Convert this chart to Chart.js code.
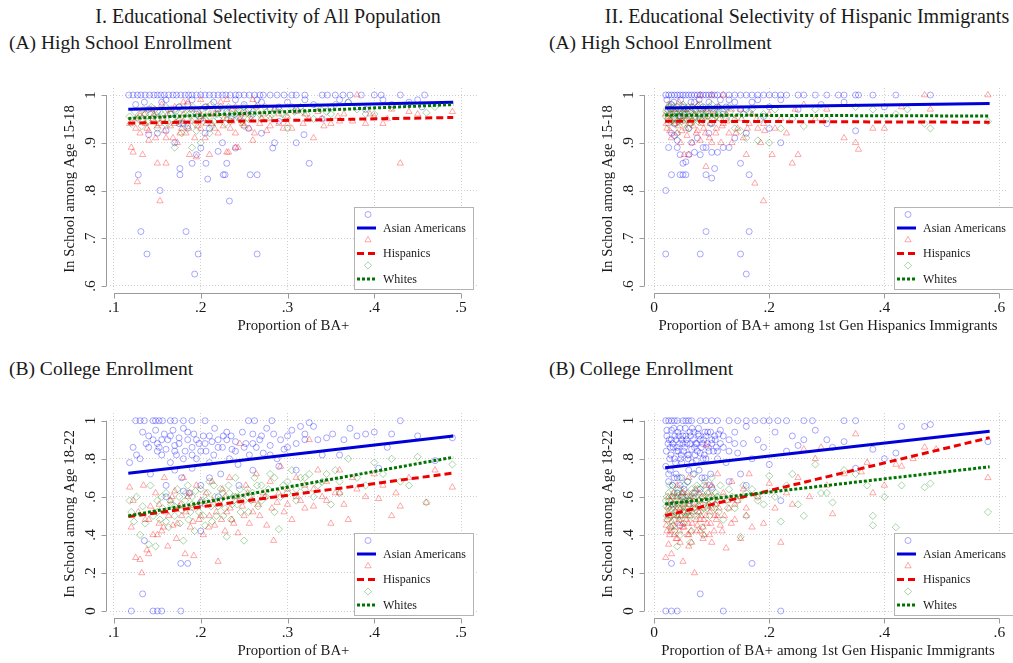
<!DOCTYPE html>
<html>
<head>
<meta charset="utf-8">
<script src="https://cdn.jsdelivr.net/npm/chart.js@4.4.1/dist/chart.umd.min.js"></script>
<style>
  body { margin:0; background:#fff; width:1013px; height:663px; overflow:hidden; position:relative; font-family:"Liberation Serif", serif; color:#1a1a1a; }
  canvas { position:absolute; left:0; top:0; }
  .t { position:absolute; white-space:nowrap; line-height:1; }
  .big { font-size:20px; }
  .sub { font-size:19.5px; }
</style>
</head>
<body>
<div class="t big" style="left:268px;top:6px;transform:translateX(-50%)">I. Educational Selectivity of All Population</div>
<div class="t big" style="left:807px;top:6px;transform:translateX(-50%)">II. Educational Selectivity of Hispanic Immigrants</div>
<div class="t sub" style="left:9px;top:33px">(A) High School Enrollment</div>
<div class="t sub" style="left:549px;top:33px">(A) High School Enrollment</div>
<div class="t sub" style="left:9px;top:359px">(B) College Enrollment</div>
<div class="t sub" style="left:549px;top:359px">(B) College Enrollment</div>
<canvas id="c1" width="1013" height="663"></canvas>
<canvas id="c2" width="1013" height="663"></canvas>
<canvas id="c3" width="1013" height="663"></canvas>
<canvas id="c4" width="1013" height="663"></canvas>
<script>
/* ---------- data ---------- */
const seriesNames = ['Asian Americans', 'Hispanics', 'Whites'];
const xTicksAll  = [0.1, 0.2, 0.3, 0.4, 0.5];
const xTicksHisp = [0, 0.2, 0.4, 0.6];
const yTicksHS   = [0.6, 0.7, 0.8, 0.9, 1];
const yTicksCol  = [0, 0.2, 0.4, 0.6, 0.8, 1];

// (I-A) high school, all population
const hsAllAsian = [[.117,1],[.122,1],[.127,1],[.131,1],[.136,1],[.141,1],[.146,1],[.15,1],[.154,1],[.158,1],[.163,1],[.168,1],[.172,1],[.177,1],[.182,1],[.186,1],[.19,1],[.195,1],[.2,1],[.205,1],[.21,1],[.215,1],[.22,1],[.225,1],[.229,1],[.234,1],[.24,1],[.244,1],[.25,1],[.256,1],[.262,1],[.268,1],[.272,1],[.28,1],[.288,1],[.296,1],[.305,1],[.31,1],[.32,1],[.34,1],[.346,1],[.355,1],[.364,1],[.372,1],[.385,1],[.4,1],[.408,1],[.43,1],[.458,1],
  [.14,.97],[.155,.985],[.165,.96],[.175,.975],[.19,.99],[.2,.95],[.215,.985],[.23,.965],[.25,.98],[.265,.99],[.28,.97],[.3,.985],[.32,.99],[.35,.975],[.37,.985],[.39,.97],[.41,.99],[.44,.985],[.455,.975],[.18,.94],[.21,.93],[.245,.955],[.29,.945],
  [.125,.98],[.135,.985],[.16,.99],[.17,.97],[.185,.98],[.205,.975],[.22,.97],[.24,.99],[.255,.97],[.27,.985],[.29,.975],[.31,.97],[.33,.98],[.36,.99],[.38,.975],[.42,.98],[.45,.99],[.15,.965],[.195,.96],[.26,.96],
  [.14,.917],[.15,.92],[.16,.925],[.17,.9],[.175,.94],[.185,.935],[.195,.875],[.2,.889],[.205,.92],[.22,.882],[.225,.9],[.24,.889],[.235,.95],[.255,.93],[.27,.92],[.283,.889],[.285,.9],[.31,.9],[.319,.917],[.34,.95],
  [.128,.833],[.131,.714],[.138,.667],[.153,.8],[.176,.846],[.176,.833],[.183,.714],[.19,.857],[.193,.625],[.197,.667],[.206,.857],[.208,.824],[.226,.833],[.228,.833],[.23,.857],[.233,.778],[.257,.833],[.265,.833],[.265,.667],[.325,.857]];
const hsAllHisp = [[.118,.94],[.12,.89],[.122,.88],[.125,.95],[.127,.818],[.13,.92],[.133,.875],[.135,.96],[.138,.93],[.14,.905],[.143,.97],[.145,.95],[.148,.91],[.15,.857],[.152,.94],[.153,.778],[.155,.98],[.158,.925],[.16,.857],[.162,.96],[.165,.935],[.168,.91],[.17,.975],[.173,.9],[.175,.95],[.178,.93],[.18,.96],[.183,.92],[.185,.985],[.187,.875],[.19,.945],[.193,.91],[.195,.87],[.198,.965],[.2,.93],[.203,.95],[.205,.91],[.208,.975],[.21,.875],[.213,.94],[.216,.96],[.22,.92],[.223,.985],[.226,.95],[.23,.88],[.232,.88],[.234,.93],[.236,.97],[.24,.89],[.243,.89],[.245,.95],[.248,.94],[.252,.96],[.256,.93],[.26,.905],[.264,.975],[.268,.94],[.272,.96],[.276,.925],[.28,.95],[.285,.97],[.29,.94],[.295,.93],[.3,.955],[.305,.93],[.31,.965],[.318,.94],[.325,.95],[.33,.91],[.335,.965],[.342,.935],[.35,.94],[.358,.955],[.365,.96],[.375,.945],[.38,1],[.39,.94],[.395,.96],[.4,.955],[.41,.94],[.415,.95],[.42,.97],[.43,.857],[.44,.965],[.45,.96],[.49,.965],[.23,.99],[.24,.975],[.2,.99],
  [.125,.93],[.13,.96],[.136,.94],[.14,.925],[.146,.96],[.15,.935],[.156,.95],[.16,.91],[.166,.97],[.17,.94],[.176,.92],[.18,.945],[.186,.93],[.19,.97],[.196,.935],[.2,.955],[.206,.94],[.21,.96],[.216,.93],[.22,.97],[.226,.935],[.23,.95],[.236,.945],[.24,.92],[.246,.96],[.25,.935],[.258,.95],[.262,.92],[.27,.95],[.28,.935],[.29,.96],[.3,.94],[.32,.96],[.34,.95],[.36,.945],[.18,.985],[.26,.99]];
const hsAllWhite = [[.118,.955],[.12,.94],[.124,.965],[.128,.95],[.132,.935],[.136,.96],[.14,.945],[.143,.975],[.146,.955],[.15,.93],[.153,.965],[.156,.95],[.16,.975],[.163,.94],[.166,.96],[.17,.89],[.172,.955],[.175,.975],[.178,.94],[.182,.96],[.185,.93],[.188,.97],[.19,.89],[.192,.95],[.196,.965],[.2,.9],[.203,.945],[.206,.975],[.21,.955],[.213,.935],[.217,.97],[.22,.95],[.224,.965],[.228,.94],[.232,.975],[.236,.955],[.24,.96],[.244,.97],[.248,.945],[.252,.965],[.258,.955],[.264,.975],[.27,.95],[.276,.965],[.282,.96],[.29,.97],[.298,.955],[.3,.93],[.308,.965],[.315,.975],[.322,.96],[.33,.95],[.338,.97],[.345,.965],[.355,.98],[.37,.985],[.38,.97],[.39,.96],[.4,.96],[.42,.975],[.44,.98],[.46,.963],[.47,.975],[.178,.92],[.195,.925],[.21,.92],[.25,.935],
  [.13,.955],[.134,.97],[.138,.945],[.142,.96],[.147,.97],[.151,.95],[.155,.96],[.159,.94],[.162,.97],[.167,.95],[.171,.965],[.174,.945],[.179,.97],[.183,.95],[.187,.96],[.191,.975],[.194,.94],[.198,.955],[.201,.97],[.205,.95],[.209,.965],[.212,.98],[.215,.945],[.219,.96],[.223,.975],[.226,.955],[.23,.96],[.234,.945],[.238,.97],[.242,.955],[.246,.965],[.25,.975],[.255,.95],[.26,.965],[.268,.96],[.274,.975],[.28,.955],[.286,.97],[.294,.96],[.305,.975],[.318,.965],[.335,.975],[.35,.96]];
const hsAllFitX = [0.1165, 0.491];
const hsAllAsianFit = [0.970, 0.985];
const hsAllHispFit  = [0.941, 0.953];
const hsAllWhiteFit = [0.951, 0.980];

// (I-B) college, all population
const colAllAsian = [[.125,1],[.13,1],[.135,1],[.145,1],[.148,1],[.152,1],[.156,1],[.165,1],[.17,1],[.18,1],[.19,1],[.205,1],[.255,1],[.262,1],[.282,1],[.43,1],
  [.12,0],[.145,0],[.15,0],[.155,0],[.177,0],[.133,.09],[.177,.25],[.185,.25],[.135,.37],[.2,.42],
  [.118,.78],[.122,.86],[.126,.82],[.13,.8],[.133,.94],[.137,.88],[.14,.86],[.142,.72],[.145,.9],[.148,.95],[.15,.84],[.152,.86],[.155,.82],[.158,.93],[.16,.66],[.162,.9],[.165,.78],[.168,.95],[.17,.87],[.172,.82],[.175,.91],[.178,.7],[.18,.96],[.182,.84],[.185,.9],[.187,.62],[.19,.86],[.192,.93],[.195,.8],[.198,.88],[.2,.66],[.203,.92],[.206,.84],[.21,.78],[.213,.89],[.216,.96],[.22,.86],[.223,.72],[.226,.92],[.23,.94],[.233,.8],[.236,.85],[.24,.89],[.243,.77],[.244,.66],[.248,.94],[.252,.88],[.256,.82],[.26,.93],[.264,.86],[.268,.9],[.272,.83],[.276,.96],[.28,.87],[.284,.93],[.288,.8],[.292,.9],[.296,.85],[.3,.92],[.305,.95],[.31,.88],[.315,.97],[.32,.93],[.325,.99],[.33,.97],[.335,.9],[.345,.91],[.352,.93],[.36,.82],[.365,.9],[.372,.96],[.38,.92],[.39,.93],[.4,.94],[.405,.75],[.415,.86],[.42,.93],[.45,.92],[.47,.79],[.49,.91],[.16,.6],[.2,.57],[.22,.6],[.18,.63],[.26,.74],[.29,.76],[.34,.82],[.31,.74],
  [.14,.92],[.15,.88],[.155,.9],[.16,.85],[.165,.92],[.17,.84],[.175,.88],[.18,.8],[.185,.94],[.19,.82],[.195,.9],[.2,.84],[.205,.88],[.21,.92],[.215,.82],[.22,.9],[.225,.86],[.23,.9],[.235,.92],[.24,.84],[.25,.86],[.26,.88],[.27,.92],[.28,.82],[.3,.86],[.32,.9],[.19,.75],[.21,.7],[.17,.74]];
const colAllHisp = [[.118,.65],[.12,.44],[.122,.58],[.125,.28],[.128,.52],[.13,.27],[.132,.2],[.134,.66],[.136,.48],[.138,.32],[.14,.3],[.142,.55],[.145,.4],[.148,.62],[.15,.4],[.152,.46],[.155,.42],[.158,.7],[.16,.52],[.162,.34],[.165,.58],[.168,.45],[.17,.63],[.172,.38],[.175,.55],[.178,.5],[.18,.7],[.182,.3],[.185,.6],[.188,.44],[.19,.54],[.192,.29],[.195,.66],[.198,.48],[.2,.58],[.203,.4],[.206,.62],[.21,.5],[.213,.68],[.216,.45],[.22,.26],[.222,.56],[.225,.64],[.228,.42],[.23,.52],[.233,.7],[.236,.48],[.24,.6],[.243,.41],[.245,.88],[.248,.55],[.252,.66],[.256,.46],[.26,.58],[.264,.72],[.268,.5],[.272,.62],[.276,.45],[.28,.68],[.284,.37],[.288,.57],[.292,.76],[.296,.52],[.3,.64],[.305,.48],[.31,.7],[.315,.58],[.32,.66],[.325,.9],[.33,.55],[.335,.74],[.34,.6],[.345,.68],[.35,.46],[.355,.62],[.36,.74],[.365,.56],[.37,.48],[.375,.7],[.38,.64],[.39,.6],[.4,.72],[.405,.59],[.41,.66],[.42,.5],[.425,.62],[.43,.55],[.44,.7],[.46,.57],[.47,.74],[.49,.65],
  [.14,.48],[.146,.52],[.152,.56],[.157,.44],[.163,.5],[.167,.6],[.173,.46],[.177,.56],[.183,.52],[.187,.62],[.191,.47],[.196,.55],[.2,.5],[.205,.56],[.209,.44],[.214,.58],[.218,.52],[.224,.48],[.228,.6],[.234,.54],[.238,.46],[.244,.58],[.25,.5],[.254,.62],[.26,.52],[.266,.56],[.274,.6],[.282,.54],[.29,.62],[.3,.56],[.31,.6],[.32,.54],[.33,.64],[.345,.58],[.36,.62]];
const colAllWhite = [[.118,.58],[.12,.52],[.123,.47],[.126,.6],[.13,.4],[.133,.55],[.136,.46],[.14,.35],[.142,.66],[.145,.5],[.148,.34],[.15,.58],[.153,.48],[.156,.54],[.16,.62],[.163,.44],[.166,.56],[.17,.5],[.173,.64],[.176,.46],[.18,.37],[.182,.58],[.185,.66],[.188,.52],[.19,.6],[.193,.42],[.196,.55],[.2,.64],[.203,.5],[.206,.58],[.21,.68],[.213,.47],[.216,.6],[.22,.55],[.223,.64],[.226,.5],[.23,.39],[.233,.62],[.236,.56],[.24,.7],[.243,.6],[.246,.52],[.25,.37],[.254,.64],[.258,.58],[.262,.7],[.266,.55],[.27,.66],[.275,.6],[.28,.72],[.285,.52],[.29,.43],[.295,.66],[.3,.62],[.305,.74],[.31,.58],[.315,.7],[.32,.64],[.325,.72],[.33,.6],[.34,.68],[.35,.56],[.355,.74],[.36,.62],[.37,.8],[.38,.7],[.39,.66],[.4,.78],[.41,.72],[.42,.8],[.43,.68],[.44,.66],[.45,.81],[.46,.57],[.49,.77],
  [.15,.52],[.155,.6],[.16,.47],[.165,.58],[.17,.55],[.175,.6],[.178,.53],[.183,.62],[.186,.48],[.19,.56],[.194,.63],[.198,.52],[.202,.58],[.205,.45],[.208,.62],[.212,.55],[.215,.66],[.218,.5],[.222,.58],[.225,.62],[.228,.54],[.232,.66],[.235,.48],[.238,.6],[.242,.56],[.245,.64],[.25,.58],[.255,.52],[.26,.62],[.265,.66],[.27,.58],[.278,.64],[.285,.7],[.292,.6],[.3,.68],[.31,.64],[.32,.7],[.335,.66],[.345,.72],[.36,.68]];
const colAllFitX = [0.1165, 0.491];
const colAllAsianFit = [0.724, 0.920];
const colAllHispFit  = [0.496, 0.725];
const colAllWhiteFit = [0.500, 0.808];

// (II-A) high school, Hispanic immigrants
const hsHispAsian = [[.02,1],[.025,1],[.03,1],[.035,1],[.04,1],[.045,1],[.05,1],[.055,1],[.06,1],[.065,1],[.07,1],[.075,1],[.08,1],[.085,1],[.09,1],[.095,1],[.1,1],[.105,1],[.11,1],[.12,1],[.13,1],[.14,1],[.15,1],[.16,1],[.17,1],[.18,1],[.19,1],[.2,1],[.21,1],[.22,1],[.23,1],[.25,1],[.26,1],[.28,1],[.3,1],[.32,1],[.33,1],[.35,1],[.355,1],[.38,1],[.42,1],[.48,1],
  [.03,.98],[.05,.97],[.07,.985],[.09,.965],[.11,.975],[.13,.99],[.15,.97],[.17,.985],[.2,.975],[.22,.99],[.25,.97],[.29,.98],[.33,.985],[.4,.975],[.045,.955],[.08,.95],[.12,.96],[.19,.955],
  [.022,.99],[.028,.97],[.034,.985],[.04,.96],[.046,.99],[.052,.975],[.058,.96],[.064,.985],[.072,.97],[.078,.99],[.085,.975],[.095,.985],[.105,.97],[.115,.99],[.125,.975],[.14,.985],[.16,.97],[.18,.99],[.035,.94],[.06,.93],[.1,.94],[.04,.905],[.075,.91],[.095,.92],
  [.025,.89],[.03,.92],[.035,.915],[.04,.89],[.045,.875],[.05,.857],[.055,.86],[.06,.875],[.065,.9],[.07,.88],[.08,.875],[.085,.89],[.09,.89],[.1,.88],[.11,.88],[.12,.89],[.13,.89],[.14,.91],[.16,.92],[.2,.93],[.22,.9],[.3,.94],[.35,.925],
  [.02,.8],[.02,.667],[.03,.833],[.045,.833],[.05,.833],[.055,.833],[.09,.833],[.1,.826],[.105,.846],[.09,.714],[.08,.667],[.15,.857],[.165,.833],[.165,.714],[.15,.667],[.16,.625]];
const hsHispHisp = [[.02,.96],[.022,.93],[.025,.98],[.028,.95],[.03,.91],[.033,.97],[.036,.94],[.04,.92],[.043,.985],[.046,.9],[.05,.955],[.052,.875],[.055,.93],[.058,.97],[.06,.875],[.063,.94],[.066,.9],[.07,.96],[.073,.92],[.076,.98],[.08,.905],[.083,.95],[.086,.93],[.09,.85],[.093,.97],[.096,.91],[.1,.9],[.104,.95],[.108,.93],[.112,.975],[.116,.9],[.12,.94],[.125,.96],[.13,.92],[.135,.9],[.14,.95],[.145,.93],[.15,.97],[.155,.91],[.16,.875],[.165,.94],[.17,.96],[.175,.815],[.18,.93],[.185,.9],[.19,.778],[.192,.925],[.2,.96],[.205,.875],[.21,.93],[.22,.95],[.23,.92],[.24,.857],[.245,.97],[.25,.875],[.26,.98],[.28,.95],[.3,.97],[.33,.91],[.35,.9],[.355,.886],[.38,.93],[.4,.93],[.43,.975],[.47,1],[.48,.97],[.58,1],[.1,1],[.12,1],[.08,1],
  [.021,.94],[.024,.955],[.027,.925],[.03,.96],[.034,.945],[.038,.97],[.041,.935],[.044,.955],[.048,.925],[.051,.97],[.054,.945],[.057,.915],[.061,.955],[.064,.975],[.068,.935],[.071,.95],[.075,.925],[.078,.96],[.082,.94],[.085,.97],[.089,.92],[.092,.955],[.097,.94],[.102,.965],[.107,.92],[.113,.95],[.118,.935],[.126,.945],[.134,.97],[.142,.92],[.152,.95],[.162,.93],[.178,.95],[.19,.94]];
const hsHispWhite = [[.02,.955],[.022,.97],[.025,.94],[.028,.96],[.03,.98],[.032,.95],[.035,.965],[.038,.94],[.04,.975],[.042,.955],[.045,.965],[.048,.945],[.05,.98],[.052,.96],[.055,.97],[.058,.95],[.06,.965],[.063,.94],[.066,.975],[.07,.955],[.073,.965],[.076,.945],[.08,.98],[.083,.96],[.086,.95],[.09,.97],[.094,.955],[.098,.94],[.1,.98],[.105,.96],[.11,.97],[.115,.95],[.12,.965],[.13,.975],[.135,.95],[.14,.93],[.15,.925],[.155,.96],[.16,.91],[.17,.97],[.18,.905],[.19,.96],[.2,.9],[.21,.97],[.22,.93],[.24,.95],[.26,.935],[.28,.97],[.3,.95],[.35,.975],[.38,.97],[.42,.96],[.44,.97],[.47,.94],[.48,.93],[.58,.945],[.04,.92],[.06,.93],[.025,.975],
  [.021,.965],[.024,.95],[.027,.975],[.029,.945],[.031,.96],[.034,.975],[.036,.95],[.039,.965],[.041,.945],[.043,.97],[.046,.955],[.049,.975],[.051,.94],[.053,.965],[.056,.95],[.059,.975],[.061,.955],[.064,.965],[.067,.945],[.069,.97],[.072,.955],[.075,.975],[.078,.96],[.081,.945],[.085,.97],[.088,.955],[.092,.965],[.096,.975],[.1,.95],[.104,.965],[.108,.955],[.112,.975],[.118,.96],[.125,.95],[.132,.965],[.145,.955],[.165,.965],[.185,.95]];
const hsHispFitX = [0.019, 0.583];
const hsHispAsianFit = [0.973, 0.982];
const hsHispHispFit  = [0.945, 0.943];
const hsHispWhiteFit = [0.958, 0.956];

// (II-B) college, Hispanic immigrants
const colHispAsian = [[.02,1],[.025,1],[.03,1],[.035,1],[.04,1],[.05,1],[.055,1],[.06,1],[.065,1],[.08,1],[.09,1],[.1,1],[.11,1],[.13,1],[.145,1],[.16,1],[.175,1],[.19,1],[.2,1],[.215,1],[.23,1],[.26,1],[.275,1],[.33,1],[.35,1],
  [.02,0],[.03,0],[.04,0],[.12,0],[.22,0],[.03,.25],[.08,.09],[.17,.25],[.045,.45],
  [.02,.76],[.022,.92],[.025,.72],[.028,.86],[.03,.95],[.032,.66],[.035,.8],[.038,.9],[.04,.7],[.042,.84],[.045,.96],[.048,.78],[.05,.88],[.052,.64],[.055,.92],[.058,.82],[.06,.74],[.063,.88],[.066,.96],[.07,.86],[.073,.79],[.076,.93],[.08,.83],[.083,.7],[.086,.9],[.09,.8],[.093,.94],[.096,.66],[.1,.88],[.105,.92],[.11,.84],[.115,.95],[.12,.86],[.125,.78],[.13,.9],[.14,.94],[.145,.83],[.15,.72],[.155,.88],[.16,.97],[.17,.8],[.18,.9],[.19,.86],[.2,.77],[.21,.94],[.22,.58],[.23,.84],[.24,.92],[.25,.87],[.26,.9],[.28,.95],[.3,.9],[.31,.86],[.33,.89],[.35,.75],[.38,.85],[.4,.8],[.42,.83],[.43,.97],[.47,.97],[.48,.98],[.58,.89],[.05,.6],[.07,.62],[.1,.65],[.13,.68],[.16,.66],
  [.021,.84],[.024,.88],[.027,.8],[.03,.9],[.033,.86],[.036,.92],[.039,.84],[.041,.94],[.044,.88],[.047,.82],[.05,.92],[.053,.86],[.056,.9],[.059,.8],[.062,.94],[.065,.85],[.068,.9],[.071,.82],[.074,.88],[.078,.92],[.082,.86],[.085,.8],[.088,.94],[.092,.88],[.095,.84],[.1,.9],[.108,.86],[.115,.88],[.12,.92],[.13,.84],[.14,.88],[.025,.68],[.035,.7],[.045,.66],
  [.022,.95],[.026,.9],[.029,.82],[.032,.88],[.034,.96],[.037,.78],[.04,.86],[.043,.92],[.046,.8],[.048,.9],[.051,.84],[.054,.96],[.057,.88],[.06,.82],[.063,.92],[.066,.78],[.069,.94],[.072,.88],[.075,.84],[.077,.96],[.08,.9],[.084,.88],[.087,.82],[.09,.92],[.094,.86],[.098,.94],[.103,.84],[.106,.9],[.11,.8],[.112,.93],[.028,.74],[.038,.72],[.048,.7],[.058,.68],[.068,.72],[.078,.74],[.088,.7],[.098,.72],[.04,.62],[.06,.58],[.08,.64],[.03,.56]];
const colHispHisp = [[.02,.28],[.022,.48],[.025,.55],[.028,.42],[.03,.3],[.032,.6],[.035,.5],[.038,.38],[.04,.66],[.042,.46],[.045,.54],[.048,.62],[.05,.26],[.052,.44],[.055,.58],[.058,.4],[.06,.7],[.062,.5],[.065,.36],[.068,.56],[.07,.2],[.072,.64],[.075,.45],[.078,.52],[.08,.42],[.083,.6],[.086,.48],[.09,.87],[.093,.55],[.096,.4],[.1,.66],[.105,.5],[.11,.58],[.115,.45],[.12,.62],[.125,.33],[.13,.54],[.135,.68],[.14,.48],[.145,.58],[.15,.38],[.155,.64],[.16,.5],[.165,.72],[.17,.44],[.18,.6],[.19,.46],[.2,.67],[.21,.54],[.22,.36],[.23,.62],[.24,.56],[.25,.7],[.26,.85],[.27,.6],[.28,.8],[.29,.86],[.3,.66],[.31,.51],[.33,.72],[.35,.93],[.36,.73],[.37,.78],[.38,.62],[.4,.66],[.42,.77],[.43,.76],[.45,.8],[.47,.86],[.49,.85],[.58,.7],[.05,.62],[.09,.66],[.11,.72],
  [.021,.45],[.024,.52],[.027,.4],[.029,.58],[.031,.47],[.034,.62],[.036,.44],[.039,.54],[.041,.5],[.044,.42],[.046,.58],[.049,.46],[.051,.54],[.054,.5],[.057,.62],[.059,.46],[.061,.56],[.064,.42],[.067,.52],[.069,.6],[.073,.48],[.077,.56],[.081,.5],[.085,.44],[.088,.58],[.092,.46],[.097,.52],[.102,.6],[.108,.48],[.113,.54],[.118,.42],[.122,.5],[.128,.58],[.134,.46],[.14,.56],[.15,.6],[.16,.54],
  [.022,.42],[.025,.6],[.027,.5],[.03,.44],[.033,.56],[.035,.4],[.037,.52],[.04,.6],[.043,.48],[.045,.36],[.047,.5],[.05,.44],[.053,.56],[.056,.48],[.058,.52],[.06,.4],[.063,.6],[.066,.46],[.07,.54],[.074,.42],[.078,.62],[.08,.48],[.084,.54],[.087,.4],[.09,.5],[.094,.62],[.098,.46],[.1,.54],[.104,.42],[.107,.56],[.11,.5],[.025,.35],[.04,.38],[.06,.34],[.085,.38],[.1,.36]];
const colHispWhite = [[.02,.58],[.022,.5],[.025,.62],[.028,.44],[.03,.54],[.032,.66],[.035,.48],[.038,.6],[.04,.34],[.042,.56],[.045,.7],[.048,.5],[.05,.62],[.052,.46],[.055,.58],[.058,.68],[.06,.52],[.063,.36],[.066,.6],[.07,.72],[.073,.5],[.076,.64],[.08,.56],[.083,.44],[.086,.66],[.09,.58],[.093,.62],[.096,.5],[.1,.7],[.105,.54],[.11,.6],[.115,.66],[.12,.48],[.125,.58],[.13,.64],[.14,.54],[.15,.39],[.155,.66],[.16,.5],[.17,.64],[.18,.58],[.19,.56],[.2,.71],[.21,.6],[.22,.47],[.23,.66],[.24,.72],[.25,.56],[.26,.5],[.28,.77],[.29,.62],[.3,.62],[.31,.57],[.33,.74],[.35,.72],[.37,.66],[.38,.5],[.38,.45],[.4,.6],[.42,.44],[.43,.66],[.47,.65],[.48,.67],[.58,.52],
  [.021,.55],[.023,.48],[.026,.58],[.029,.52],[.031,.6],[.033,.45],[.036,.56],[.039,.5],[.041,.62],[.043,.54],[.046,.58],[.049,.56],[.051,.52],[.054,.6],[.057,.54],[.059,.5],[.062,.58],[.065,.64],[.068,.54],[.072,.6],[.075,.52],[.079,.58],[.082,.62],[.087,.54],[.091,.6],[.095,.56],[.1,.58],[.107,.62],[.112,.52],[.12,.6],[.128,.54],[.135,.6],[.145,.58],[.16,.62],[.18,.6],
  [.022,.6],[.024,.54],[.027,.66],[.03,.5],[.032,.56],[.034,.62],[.037,.52],[.04,.58],[.042,.64],[.044,.5],[.047,.6],[.05,.55],[.052,.66],[.055,.52],[.058,.6],[.061,.56],[.064,.5],[.067,.62],[.07,.56],[.074,.66],[.077,.58],[.08,.52],[.084,.6],[.088,.68],[.092,.54],[.097,.6],[.101,.64],[.105,.56],[.109,.6],[.045,.4],[.065,.42],[.085,.4],[.035,.42]];
const colHispFitX = [0.019, 0.583];
const colHispAsianFit = [0.753, 0.945];
const colHispHispFit  = [0.501, 0.911];
const colHispWhiteFit = [0.562, 0.758];

/* ---------- styles ---------- */
const FONT = '"Liberation Serif", serif';
const markStyle = [
  { style:'circle',   color:'rgba(0,0,255,0.34)', r:3 },
  { style:'triangle', color:'rgba(255,0,0,0.34)', r:3.6 },
  { style:'rectRot',  color:'rgba(0,128,0,0.34)', r:3.6 },
];
const lineStyle = [
  { color:'#0000d8', dash:[] },
  { color:'#ee0000', dash:[7,4] },
  { color:'#007400', dash:[3,2] },
];
const fmt = v => v === 0 ? '0' : v === 1 ? '1' : String(v).replace(/^0/, '');

function drawMarker(ctx, kind, x, y, r) {
  ctx.beginPath();
  if (kind === 'circle') ctx.arc(x, y, r, 0, Math.PI * 2);
  else if (kind === 'triangle') { ctx.moveTo(x, y - r); ctx.lineTo(x + r * 0.87, y + r * 0.5); ctx.lineTo(x - r * 0.87, y + r * 0.5); ctx.closePath(); }
  else { ctx.moveTo(x, y - r); ctx.lineTo(x + r, y); ctx.lineTo(x, y + r); ctx.lineTo(x - r, y); ctx.closePath(); }
  ctx.stroke();
}

function stataFrame(p) {
  return {
    id: 'frame' + p.id,
    afterDraw(chart) {
      const { ctx, chartArea: a, scales: { x, y } } = chart;
      ctx.save();
      ctx.strokeStyle = '#9a9a9a'; ctx.lineWidth = 1;
      ctx.fillStyle = '#1a1a1a';
      ctx.font = '15.5px ' + FONT;
      ctx.textAlign = 'center'; ctx.textBaseline = 'middle';

      // y axis
      const ax = p.yAxisX + 0.5;
      ctx.beginPath();
      ctx.moveTo(ax, y.getPixelForValue(p.yTicks[0]));
      ctx.lineTo(ax, y.getPixelForValue(p.yTicks[p.yTicks.length - 1]));
      p.yTicks.forEach(v => {
        const py = Math.round(y.getPixelForValue(v)) + 0.5;
        ctx.moveTo(ax - 5, py); ctx.lineTo(ax, py);
      });
      ctx.stroke();
      p.yTicks.forEach(v => {
        ctx.save();
        ctx.translate(ax - 16, y.getPixelForValue(v));
        ctx.rotate(-Math.PI / 2);
        ctx.fillText(fmt(v), 0, 0);
        ctx.restore();
      });

      // x axis
      const ay = p.xAxisY + 0.5;
      ctx.beginPath();
      ctx.moveTo(x.getPixelForValue(p.xTicks[0]), ay);
      ctx.lineTo(x.getPixelForValue(p.xTicks[p.xTicks.length - 1]), ay);
      p.xTicks.forEach(v => {
        const px = Math.round(x.getPixelForValue(v)) + 0.5;
        ctx.moveTo(px, ay); ctx.lineTo(px, ay + 5);
      });
      ctx.stroke();
      p.xTicks.forEach(v => ctx.fillText(fmt(v), x.getPixelForValue(v), ay + 14));

      // axis titles
      ctx.font = '14.8px ' + FONT;
      ctx.fillText(p.xTitle, (a.left + a.right) / 2, ay + 33);
      ctx.save();
      ctx.translate(p.yAxisX - 36, (a.top + a.bottom) / 2);
      ctx.rotate(-Math.PI / 2);
      ctx.fillText(p.yTitle, 0, 0);
      ctx.restore();

      // legend box
      const lx = p.legX, ly = p.legY;
      ctx.fillStyle = '#fff';
      ctx.fillRect(lx, ly, 119, 82);
      ctx.strokeStyle = '#b4b4b4';
      ctx.strokeRect(lx + 0.5, ly + 0.5, 119, 82);
      ctx.font = '12px ' + FONT;
      ctx.textAlign = 'left';
      seriesNames.forEach((name, i) => {
        const m = markStyle[i], l = lineStyle[i];
        ctx.strokeStyle = m.color; ctx.lineWidth = 1; ctx.setLineDash([]);
        drawMarker(ctx, m.style, lx + 14, ly + 7.5 + 25.5 * i, m.r);
        const rowY = ly + 21 + 25.5 * i;
        ctx.strokeStyle = l.color; ctx.lineWidth = 3; ctx.setLineDash(l.dash);
        ctx.beginPath(); ctx.moveTo(lx + 3, rowY); ctx.lineTo(lx + 22, rowY); ctx.stroke();
        ctx.fillStyle = '#1a1a1a';
        ctx.fillText(name, lx + 29, rowY + 0.5);
      });
      ctx.restore();
    }
  };
}

function panel(p) {
  const toXY = arr => arr.map(([x, y]) => ({ x, y }));
  const fit = ys => p.fitX.map((x, i) => ({ x, y: ys[i] }));
  const scatter = (arr, i) => ({
    data: toXY(arr), order: 5 - i, showLine: false,
    pointStyle: markStyle[i].style, pointRadius: markStyle[i].r, pointBorderWidth: 1,
    pointBorderColor: markStyle[i].color, pointBackgroundColor: 'rgba(0,0,0,0)'
  });
  const line = (ys, i) => ({
    data: fit(ys), order: 2 - i, showLine: true, pointRadius: 0,
    borderColor: lineStyle[i].color, borderWidth: 3, borderDash: lineStyle[i].dash
  });
  const axis = (min, max, ticks, horiz) => ({
    type: 'linear', min, max,
    afterBuildTicks: s => { s.ticks = ticks.map(v => ({ value: v })); },
    afterFit: s => { if (horiz) s.height = 0; else s.width = 0; },
    ticks: { display: false },
    grid: { color: '#cfcfcf', lineWidth: 1, drawTicks: false },
    border: { display: false, dash: [1, 2] }
  });
  new Chart(document.getElementById(p.id), {
    type: 'scatter',
    data: { datasets: [
      scatter(p.pts[0], 0), scatter(p.pts[1], 1), scatter(p.pts[2], 2),
      line(p.fits[0], 0), line(p.fits[1], 1), line(p.fits[2], 2)
    ]},
    options: {
      responsive: false, animation: false, devicePixelRatio: 1,
      layout: { padding: p.pad },
      plugins: { legend: { display: false }, tooltip: { enabled: false } },
      scales: {
        x: axis(p.xRange[0], p.xRange[1], p.xTicks, true),
        y: axis(p.yRange[0], p.yRange[1], p.yTicks, false)
      }
    },
    plugins: [stataFrame(p)]
  });
}

panel({ id:'c1', pts:[hsAllAsian, hsAllHisp, hsAllWhite], fitX:hsAllFitX, fits:[hsAllAsianFit, hsAllHispFit, hsAllWhiteFit],
  xTicks:xTicksAll, yTicks:yTicksHS, xRange:[0.0954, 0.5184], yRange:[0.5916, 1.0147],
  pad:{ left:110, top:88, right:536, bottom:373 }, yAxisX:106, xAxisY:293, legX:354, legY:207,
  xTitle:'Proportion of BA+', yTitle:'In School among Age 15-18' });
panel({ id:'c2', pts:[hsHispAsian, hsHispHisp, hsHispWhite], fitX:hsHispFitX, fits:[hsHispAsianFit, hsHispHispFit, hsHispWhiteFit],
  xTicks:xTicksHisp, yTicks:yTicksHS, xRange:[-0.0108, 0.6149], yRange:[0.5916, 1.0147],
  pad:{ left:648, top:88, right:0, bottom:373 }, yAxisX:644, xAxisY:293, legX:894, legY:207,
  xTitle:'Proportion of BA+ among 1st Gen Hispanics Immigrants', yTitle:'In School among Age 15-18' });
panel({ id:'c3', pts:[colAllAsian, colAllHisp, colAllWhite], fitX:colAllFitX, fits:[colAllAsianFit, colAllHispFit, colAllWhiteFit],
  xTicks:xTicksAll, yTicks:yTicksCol, xRange:[0.0954, 0.5184], yRange:[-0.021, 1.0405],
  pad:{ left:110, top:413, right:536, bottom:48 }, yAxisX:106, xAxisY:618, legX:354, legY:533,
  xTitle:'Proportion of BA+', yTitle:'In School among Age 18-22' });
panel({ id:'c4', pts:[colHispAsian, colHispHisp, colHispWhite], fitX:colHispFitX, fits:[colHispAsianFit, colHispHispFit, colHispWhiteFit],
  xTicks:xTicksHisp, yTicks:yTicksCol, xRange:[-0.0108, 0.6149], yRange:[-0.021, 1.0405],
  pad:{ left:648, top:413, right:0, bottom:48 }, yAxisX:644, xAxisY:618, legX:894, legY:533,
  xTitle:'Proportion of BA+ among 1st Gen Hispanic Immigrants', yTitle:'In School among Age 18-22' });
</script>
</body>
</html>
